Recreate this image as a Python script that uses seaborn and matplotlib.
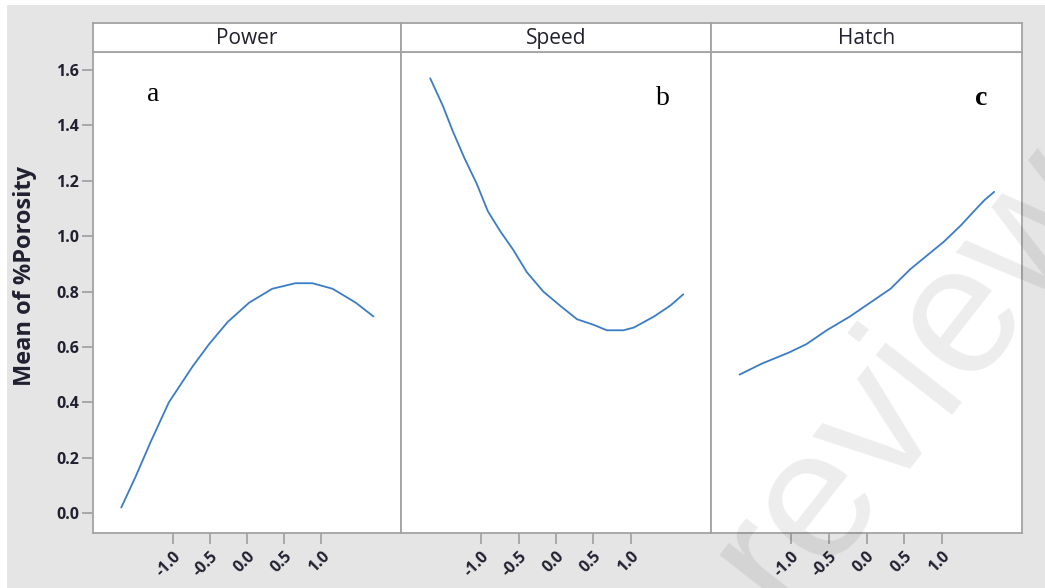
import matplotlib
matplotlib.use("Agg")
import matplotlib.pyplot as plt
import pandas as pd
import seaborn as sns
from matplotlib.patches import Rectangle

# Main effects of the coded process factors on mean porosity
factors = ["Power", "Speed", "Hatch"]
panel_tags = ["a", "b", "c"]

power_x = [-1.69, -1.50, -1.29, -1.05, -0.73, -0.51, -0.26, 0.03, 0.34, 0.65, 0.88, 1.15, 1.46, 1.70]
power_y = [0.02, 0.13, 0.26, 0.40, 0.53, 0.61, 0.69, 0.76, 0.81, 0.83, 0.83, 0.81, 0.76, 0.71]

speed_x = [-1.68, -1.51, -1.38, -1.22, -1.06, -0.91, -0.75, -0.57, -0.39, -0.17,
           0.05, 0.28, 0.50, 0.68, 0.90, 1.04, 1.31, 1.53, 1.70]
speed_y = [1.57, 1.47, 1.38, 1.28, 1.19, 1.09, 1.02, 0.95, 0.87, 0.80,
           0.75, 0.70, 0.68, 0.66, 0.66, 0.67, 0.71, 0.75, 0.79]

hatch_x = [-1.69, -1.39, -1.03, -0.80, -0.53, -0.22, 0.05, 0.32, 0.58, 0.85, 1.03, 1.26, 1.43, 1.57, 1.70]
hatch_y = [0.50, 0.54, 0.58, 0.61, 0.66, 0.71, 0.76, 0.81, 0.88, 0.94, 0.98, 1.04, 1.09, 1.13, 1.16]

xtick_values = [-1.0, -0.5, 0.0, 0.5, 1.0]
xtick_labels = ["-1.0", "-0.5", "0.0", "0.5", "1.0"]
ytick_values = [0.0, 0.2, 0.4, 0.6, 0.8, 1.0, 1.2, 1.4, 1.6]
ytick_labels = ["0.0", "0.2", "0.4", "0.6", "0.8", "1.0", "1.2", "1.4", "1.6"]
y_label = "Mean of %Porosity"

df = pd.concat([
    pd.DataFrame({"factor": "Power", "level": power_x, "mean": power_y}),
    pd.DataFrame({"factor": "Speed", "level": speed_x, "mean": speed_y}),
    pd.DataFrame({"factor": "Hatch", "level": hatch_x, "mean": hatch_y}),
], ignore_index=True)

sns.set_theme(style="white")
plt.rcParams["font.family"] = ["Open Sans", "DejaVu Sans"]

W, H = 1045, 588
fig = plt.figure(figsize=(W / 100, H / 100), dpi=100, facecolor="white")
fig.add_artist(Rectangle((7 / W, 0), 1, 1 - 5 / H, transform=fig.transFigure,
                         facecolor="#e5e5e5", edgecolor="none", zorder=0))

frame_col = "#a3a3a3"
text_col = "#202030"
line_col = "#3b7cc6"

edges_px = [93, 401, 711, 1022]
plot_top, plot_bottom, strip_top = 52, 533, 23

for i, name in enumerate(factors):
    l = edges_px[i] / W
    w = (edges_px[i + 1] - edges_px[i]) / W
    b = 1 - plot_bottom / H
    h = (plot_bottom - plot_top) / H
    ax = fig.add_axes([l, b, w, h])
    ax.set_facecolor("white")
    sns.lineplot(data=df[df["factor"] == name], x="level", y="mean", ax=ax,
                 color=line_col, linewidth=1.3, sort=True)
    ax.set_xlim(-2.07, 2.07)
    ax.set_ylim(-0.072, 1.665)
    ax.set_xlabel("")
    ax.set_ylabel("")
    for sp in ax.spines.values():
        sp.set_color(frame_col)
        sp.set_linewidth(1.3)
    ax.set_xticks(xtick_values)
    ax.set_xticklabels(xtick_labels, rotation=45, ha="right", rotation_mode="anchor",
                       fontsize=11.5, fontweight="bold", color=text_col)
    ax.tick_params(axis="x", direction="out", length=8, width=1.3, color=frame_col,
                   pad=3, bottom=True)
    if i == 0:
        ax.set_yticks(ytick_values)
        ax.set_yticklabels(ytick_labels, fontsize=11.5, fontweight="bold", color=text_col)
        ax.tick_params(axis="y", direction="out", length=8, width=1.3, color=frame_col,
                       pad=2, left=True)
    else:
        ax.set_yticks([])

    # facet strip
    sax = fig.add_axes([l, 1 - plot_top / H, w, (plot_top - strip_top) / H])
    sax.set_facecolor("white")
    sax.set_xticks([])
    sax.set_yticks([])
    for sp in sax.spines.values():
        sp.set_color(frame_col)
        sp.set_linewidth(1.3)
    sax.text(0.5, 0.45, name, transform=sax.transAxes, ha="center", va="center",
             fontsize=15, color=text_col)

# panel letters
tag_pos = [(153, 101), (663, 105), (981, 105)]
for tag, (px, py) in zip(panel_tags, tag_pos):
    fig.text(px / W, 1 - py / H, tag, ha="center", va="baseline",
             fontsize=20, family="Liberation Serif", color="black",
             fontweight="bold" if tag == "c" else "normal")

fig.text(25 / W, 1 - 276 / H, y_label, rotation=90, ha="center", va="center",
         fontsize=17, fontweight="bold", color=text_col)

# faint diagonal stamp across the lower right, anchored at its baseline start
fig.text(783.5 / W, 1 - 615 / H, "review", fontsize=132, family="Liberation Sans",
         rotation=52, rotation_mode="anchor", ha="left", va="baseline",
         color="black", alpha=0.075, zorder=20)

fig.savefig("out.png", dpi=100, facecolor=fig.get_facecolor())
